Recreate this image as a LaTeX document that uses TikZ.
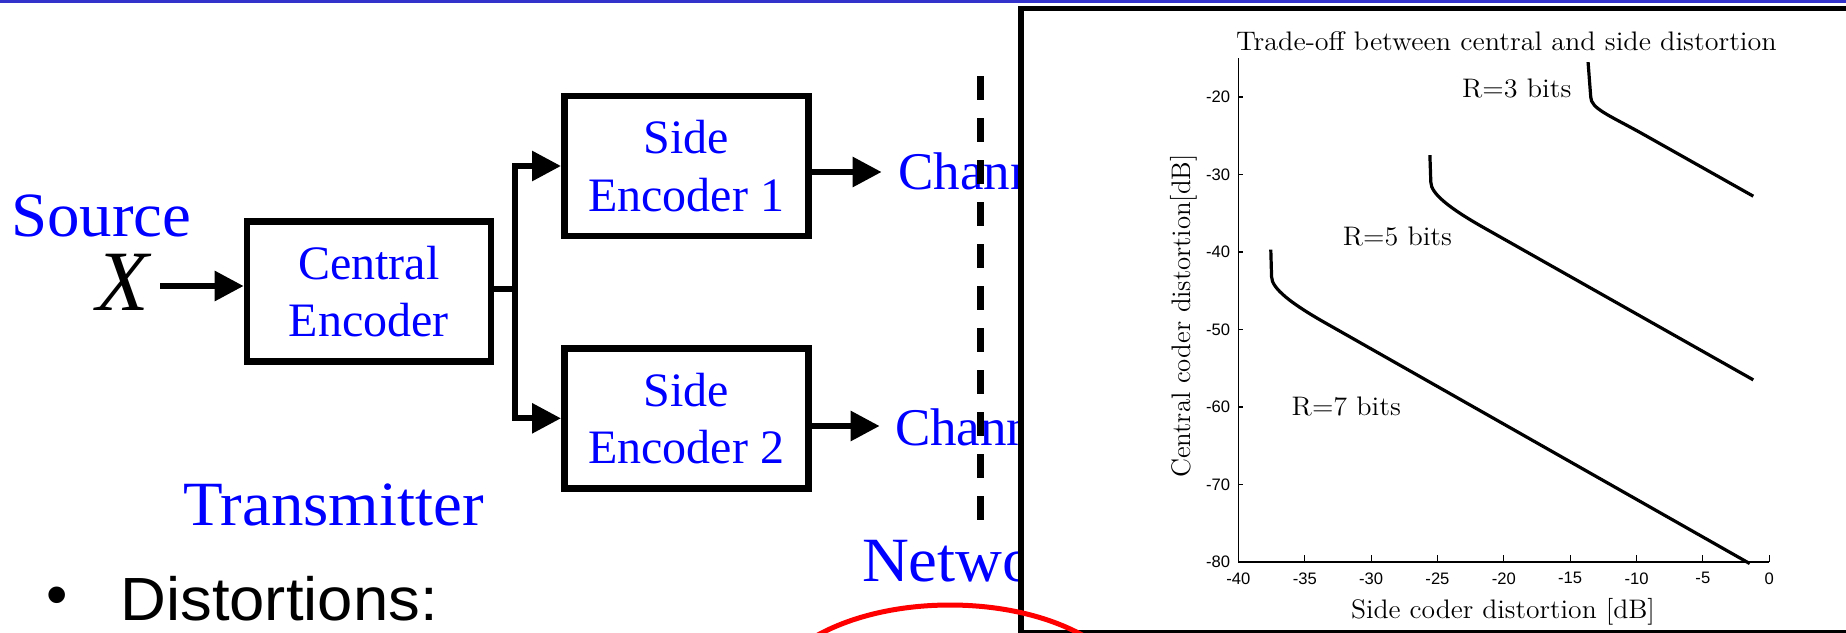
\documentclass[tikz,border=0pt]{standalone}
\usepackage{fontspec}
\newfontfamily\tnr{Liberation Serif}
\newfontfamily\ars{Liberation Sans}
\usetikzlibrary{arrows.meta}
\definecolor{barblue}{RGB}{51,51,204}
\begin{document}
\begin{tikzpicture}[x=0.5pt,y=-0.5pt,
  encbox/.style={draw, line width=3.25pt, minimum width=122pt, minimum height=70pt,
    inner sep=0pt, align=center, font=\tnr\fontsize{24}{28.7}\selectfont, text=blue},
  connline/.style={line width=3pt},
  arrline/.style={line width=3pt, -{Triangle[length=14.5pt,width=14.5pt]}},
  bluelbl/.style={anchor=base west, inner sep=0pt, text=blue},
  bigtxt/.style={font=\tnr\fontsize{31.5}{37}\selectfont, xscale=1.03},
  chantxt/.style={font=\tnr\fontsize{26.5}{32}\selectfont},
  cmtxt/.style={inner sep=0pt, font=\fontsize{13.4}{16}\selectfont},
  ticklbl/.style={inner sep=0pt, font=\ars\fontsize{8.3}{10}\selectfont},
  plotcurve/.style={line width=1.6pt, line join=round},
  sanstxt/.style={inner sep=0pt, font=\ars\fontsize{30.5}{36}\selectfont},
]
\useasboundingbox (0,0) rectangle (1846,632);
\clip (0,0) rectangle (1846,632);
\fill[barblue] (0,0) rectangle (1846,3.4);

% left block diagram
\node[bluelbl, bigtxt] (src) at (11,236.7) {Source};
\node[anchor=base, inner sep=0pt, font=\tnr\itshape\fontsize{43}{50}\selectfont] (x) at (123,310) {X};
\coordinate (xs) at (160,286);
\node[encbox] (cenc) at (368.9,291.7) {Central\\Encoder};
\draw[arrline] (xs) -- (xs -| cenc.west);
\node[encbox] (se1) at (686.25,166) {Side\\Encoder 1};
\node[encbox] (se2) at (686.25,418.3) {Side\\Encoder 2};
\coordinate (br) at (515,289.3);
\draw[connline] (cenc.east |- br) -- (br);
\draw[arrline] (br) |- (se1.west);
\draw[arrline] (br) |- (se2.west);
\coordinate (c1t) at (881.6,172);
\coordinate (c2t) at (879.6,426);
\draw[arrline] (se1.east |- c1t) -- (c1t);
\draw[arrline] (se2.east |- c2t) -- (c2t);
\node[bluelbl, chantxt] (ch1) at (897.8,189.3) {Channel 1};
\node[bluelbl, chantxt] (ch2) at (894.6,445) {Channel 2};
\coordinate (dt) at (980.5,76);
\coordinate (db) at (980.5,520);
\draw[line width=3.25pt, dash pattern=on 12pt off 9pt] (dt) -- (db);
\node[bluelbl, bigtxt] (tx) at (183,525) {Transmitter};
\node[bluelbl, bigtxt] (net) at (861.7,581.7) {Network};
\node[sanstxt] (bul) at (56.7,600.8) {•};
\node[sanstxt, anchor=base west, xscale=1.04] (dist) at (120,620) {Distortions:};

% plot panel
\draw[line width=2.75pt, fill=white] (1021,8.5) rectangle (1880,633);
\begin{scope}[shift={(1769.2,-58)}, x=6.635pt, y=3.875pt]
  \draw[line width=0.7pt] (-40,-15) -- (-40,-80) -- (0,-80);
  \foreach \d in {-35,-30,...,0} \draw[line width=0.6pt] (\d,-80) -- ++(0pt,3.3pt);
  \foreach \c in {-70,-60,...,-20} \draw[line width=0.6pt] (-40,\c) -- ++(2.5pt,0pt);
  \foreach \d in {-40,-35,...,0} \node[ticklbl, yshift=-8.15pt] at (\d,-80) {\d};
  \foreach \c in {-80,-70,...,-20} \node[ticklbl, anchor=east, xshift=-4pt] at (-40,\c) {\c};
  \draw[plotcurve] (-13.65,-15.5) -- (-13.45,-20) .. controls (-13.45,-21.5) and (-12,-22.4) .. (-9.5,-24.8) -- (-1.2,-32.8);
  \draw[plotcurve] (-25.57,-27.5) -- (-25.5,-31) .. controls (-25.5,-32.5) and (-24,-34.45) .. (-21.5,-36.87) -- (-1.2,-56.5);
  \draw[plotcurve] (-37.56,-39.7) -- (-37.5,-43.2) .. controls (-37.5,-44.7) and (-36,-46.67) .. (-33.5,-49.1) -- (-1.47,-80.2);
\end{scope}
\node[cmtxt, anchor=base, xscale=1.05] (title) at (1506.4,50) {Trade-off between central and side distortion};
\node[cmtxt, anchor=base, rotate=90] (ylab) at (1190,316) {Central coder distortion[dB]};
\node[cmtxt, anchor=base, xscale=1.03] (xlab) at (1503,618.3) {Side coder distortion [dB]};
\node[cmtxt, anchor=base west, xscale=1.05] (r3) at (1461.7,97.3) {R=3 bits};
\node[cmtxt, anchor=base west, xscale=1.05] (r5) at (1342.4,245) {R=5 bits};
\node[cmtxt, anchor=base west, xscale=1.05] (r7) at (1291.3,415) {R=7 bits};

\draw[red, line width=2.5pt] (950,705) ellipse [x radius=92.5pt, y radius=50pt];
\end{tikzpicture}
\end{document}
